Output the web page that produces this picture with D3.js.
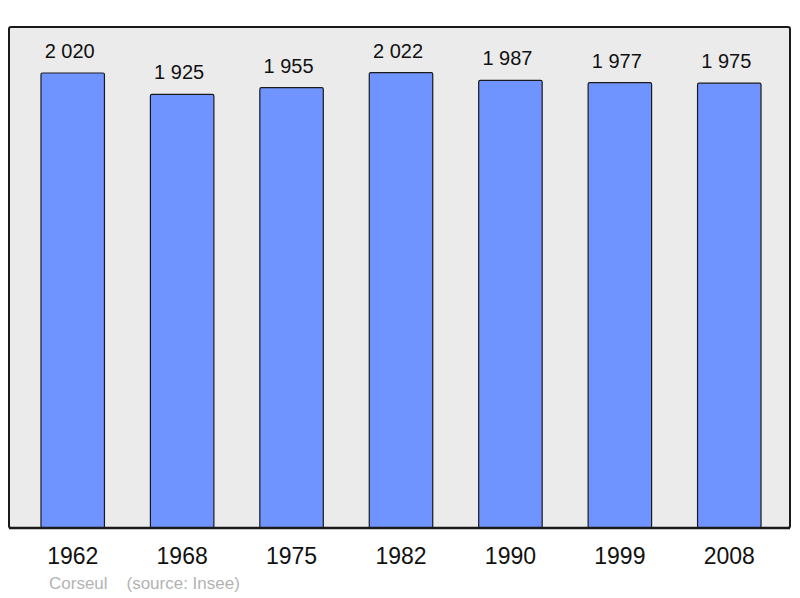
<!DOCTYPE html>
<html>
<head>
<meta charset="utf-8">
<script src="https://cdn.jsdelivr.net/npm/d3@7"></script>
<style>
  body { margin: 0; background: #fff; }
  svg { font-family: "Liberation Sans", Arial, sans-serif; }
</style>
</head>
<body>
<div id="chart"></div>
<script>
// Population data
var years = ["1962", "1968", "1975", "1982", "1990", "1999", "2008"];
var population = [2020, 1925, 1955, 2022, 1987, 1977, 1975];
var townName = "Corseul";
var sourceText = "(source: Insee)";

var svgWidth = 800;
var svgHeight = 598;

// panel box
var panel = { left: 9, top: 27, right: 790, bottom: 528 };

var svg = d3.select("#chart")
  .append("svg")
  .attr("width", svgWidth)
  .attr("height", svgHeight);

svg.append("rect")
  .attr("x", panel.left)
  .attr("y", panel.top)
  .attr("width", panel.right - panel.left)
  .attr("height", panel.bottom - panel.top)
  .attr("rx", 2)
  .attr("fill", "#ebebeb")
  .attr("stroke", "#1a1a1a")
  .attr("stroke-width", 2);

var xScale = d3.scaleBand()
  .domain(years)
  .range([18, 784]);

var yScale = d3.scaleLinear()
  .domain([0, d3.max(population) * 1.1])
  .range([panel.bottom, panel.top]);

var barWidth = xScale.bandwidth() * 0.58;

var data = years.map(function(y, i) { return { year: y, value: population[i] }; });

svg.selectAll("rect.bar")
  .data(data)
  .enter()
  .append("rect")
  .classed("bar", true)
  .attr("x", d => xScale(d.year) + (xScale.bandwidth() - barWidth) / 2)
  .attr("y", d => yScale(d.value))
  .attr("width", barWidth)
  .attr("height", d => panel.bottom - yScale(d.value))
  .attr("rx", 1.5)
  .attr("fill", "#7094ff")
  .attr("stroke", "#1a1a1a")
  .attr("stroke-width", 1.2);

// value labels (sit a little left of bar centre, like the original)
var fmt = function(v) { return d3.format(",")(v).replace(",", "\u00a0"); };
svg.selectAll("text.value")
  .data(data)
  .enter()
  .append("text")
  .classed("value", true)
  .attr("x", d => xScale(d.year) + xScale.bandwidth() / 2 - 3)
  .attr("y", d => yScale(d.value) - 15)
  .attr("text-anchor", "middle")
  .attr("font-size", "20px")
  .attr("fill", "#111")
  .text(d => fmt(d.value));

// bottom edge drawn again on top of the bars
svg.append("line")
  .attr("x1", panel.left).attr("x2", panel.right)
  .attr("y1", panel.bottom).attr("y2", panel.bottom)
  .attr("stroke", "#1a1a1a")
  .attr("stroke-width", 2.5);

// year labels
var xAxis = d3.axisBottom(xScale).tickSize(0).tickPadding(0);
var axisG = svg.append("g")
  .attr("transform", `translate(0, ${panel.bottom + 36})`)
  .call(xAxis);
axisG.select(".domain").remove();
axisG.selectAll("text")
  .attr("font-size", "23px")
  .attr("font-family", "Liberation Sans, Arial, sans-serif")
  .attr("fill", "#111")
  .attr("dy", 0);

// footer
svg.append("text")
  .attr("x", 49)
  .attr("y", 589)
  .attr("font-size", "17px")
  .attr("fill", "#b3b3b3")
  .style("white-space", "pre")
  .text(townName + "    " + sourceText);
</script>
</body>
</html>
